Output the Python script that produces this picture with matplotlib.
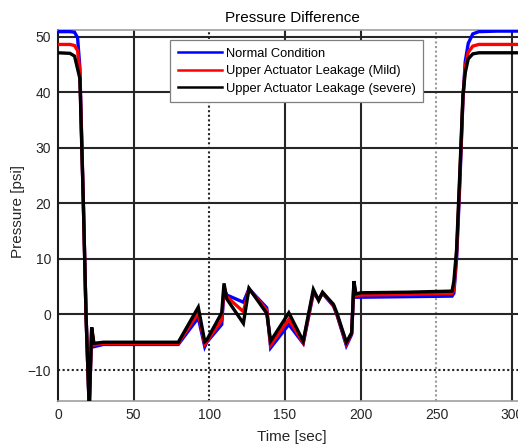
import matplotlib
matplotlib.use("Agg")
import matplotlib.pyplot as plt

plt.rcParams['font.family'] = ['Liberation Sans', 'DejaVu Sans']

# Time knots [sec]
time_s = [0, 8, 11, 13, 14.5, 16.8, 18.6, 20.7, 22.3, 23.8, 30, 50, 79.5,
          92.7, 97, 98.3, 108.2, 109.7, 111.5, 122.5, 126.2, 137.9, 140.5,
          152.5, 162, 168.7, 172.2, 174.8, 182, 184.2, 190.5, 194, 195.5,
          196.8, 200, 230, 260.3, 261.5, 263.3, 265.5, 267.5, 269, 271, 274,
          278, 290, 312]

# Pressure difference [psi]
normal = [50.9, 50.9, 50.8, 49.8, 44.5, 20.1, -0.3, -17.0, -2.8, -5.8, -5.4,
          -5.4, -5.4, -0.6, -5.8, -5.0, -1.8, 4.5, 3.5, 2.2, 4.6, 1.2, -6.0,
          -1.8, -5.2, 3.8, 2.8, 3.8, 1.5, 0.0, -5.6, -3.6, 5.5, 3.1, 3.1, 3.2,
          3.3, 3.8, 10.0, 24.0, 38.7, 45.5, 48.8, 50.5, 50.9, 51.0, 51.0]
mild = [48.6, 48.6, 48.4, 47.5, 43.8, 20.1, -0.3, -17.0, -2.5, -5.5, -5.2,
        -5.2, -5.2, 0.3, -5.4, -4.9, -1.0, 5.0, 3.2, 0.5, 4.6, 0.8, -5.5,
        -0.9, -5.1, 4.1, 2.6, 3.9, 1.6, 0.1, -5.3, -3.4, 5.7, 3.4, 3.5, 3.6,
        3.8, 4.5, 10.8, 25.0, 39.0, 44.5, 47.2, 48.3, 48.6, 48.6, 48.6]
severe = [47.1, 47.0, 46.5, 44.2, 42.5, 20.1, -0.3, -17.0, -2.3, -5.2, -5.0,
          -5.0, -5.0, 1.3, -4.9, -4.6, 0.3, 5.6, 2.8, -1.6, 4.7, 0.2, -4.8,
          0.3, -4.8, 4.5, 2.5, 4.0, 1.8, 0.3, -5.0, -3.3, 6.0, 3.7, 3.9, 4.0,
          4.2, 6.0, 11.7, 26.0, 39.5, 43.5, 46.0, 46.9, 47.1, 47.1, 47.1]

labels = ['Normal Condition', 'Upper Actuator Leakage (Mild)',
          'Upper Actuator Leakage (severe)']
colors = ['#0000ff', '#ff0000', '#000000']

x_ticks = [0, 50, 100, 150, 200, 250, 300]
y_ticks = [-10, 0, 10, 20, 30, 40, 50]

W, H = 518, 445
fig = plt.figure(figsize=(W / 100, H / 100), dpi=100)
left, right, top, bottom = 57.9, 527.0, 30.0, 401.0
ax = fig.add_axes([left / W, 1 - bottom / H, (right - left) / W, (bottom - top) / H])
ax.set_xlim(0, 309.8)
ax.set_ylim(-15.58, 51.2)

grid_c = '#262626'
# grid lines
for xv in x_ticks[1:]:
    if xv == 100:
        ax.axvline(xv, color=grid_c, lw=1.5, ls=(0, (1, 1.2)), zorder=1)
    elif xv == 250:
        ax.axvline(xv, color='#9a9a9a', lw=1.5, ls=(0, (1, 1.2)), zorder=1)
    else:
        ax.axvline(xv, color=grid_c, lw=1.5, zorder=1)
for yv in y_ticks:
    if yv == -10:
        ax.axhline(yv, color=grid_c, lw=1.5, ls=(0, (1, 1.2)), zorder=1)
    else:
        ax.axhline(yv, color=grid_c, lw=1.5, zorder=1)

for series, c, lab in zip([normal, mild, severe], colors, labels):
    ax.plot(time_s, series, color=c, lw=2.4, label=lab, zorder=3,
            solid_joinstyle='miter')

ax.set_xticks(x_ticks)
ax.set_yticks(y_ticks)
ax.tick_params(length=0, labelsize=10, colors='#262626', pad=5)
ax.spines['left'].set_color('#1a1a1a')
ax.spines['left'].set_linewidth(1.5)
for s in ['top', 'bottom']:
    ax.spines[s].set_color('#a0a0a0')
    ax.spines[s].set_linewidth(1.2)
ax.spines['right'].set_visible(False)

fig.text(292 / W, 1 - 18 / H, 'Pressure Difference', ha='center', va='center',
         fontsize=11, color='#000000')
fig.text(292 / W, 1 - 437 / H, 'Time [sec]', ha='center', va='center',
         fontsize=11, color='#262626')
fig.text(18 / W, 1 - 212 / H, 'Pressure [psi]', ha='center', va='center',
         rotation=90, fontsize=11, color='#262626')

leg = ax.legend(loc='upper left', bbox_to_anchor=(170 / W, 1 - 40 / H),
                bbox_transform=fig.transFigure, fontsize=9.3, frameon=True,
                fancybox=False, borderpad=0.6, handlelength=3.4,
                handletextpad=0.3, labelspacing=0.42, borderaxespad=0)
leg.get_frame().set_edgecolor('#7f7f7f')
leg.get_frame().set_linewidth(0.9)
leg.get_frame().set_alpha(1)
for line in leg.get_lines():
    line.set_linewidth(1.8)

fig.savefig('out.png', dpi=100)
